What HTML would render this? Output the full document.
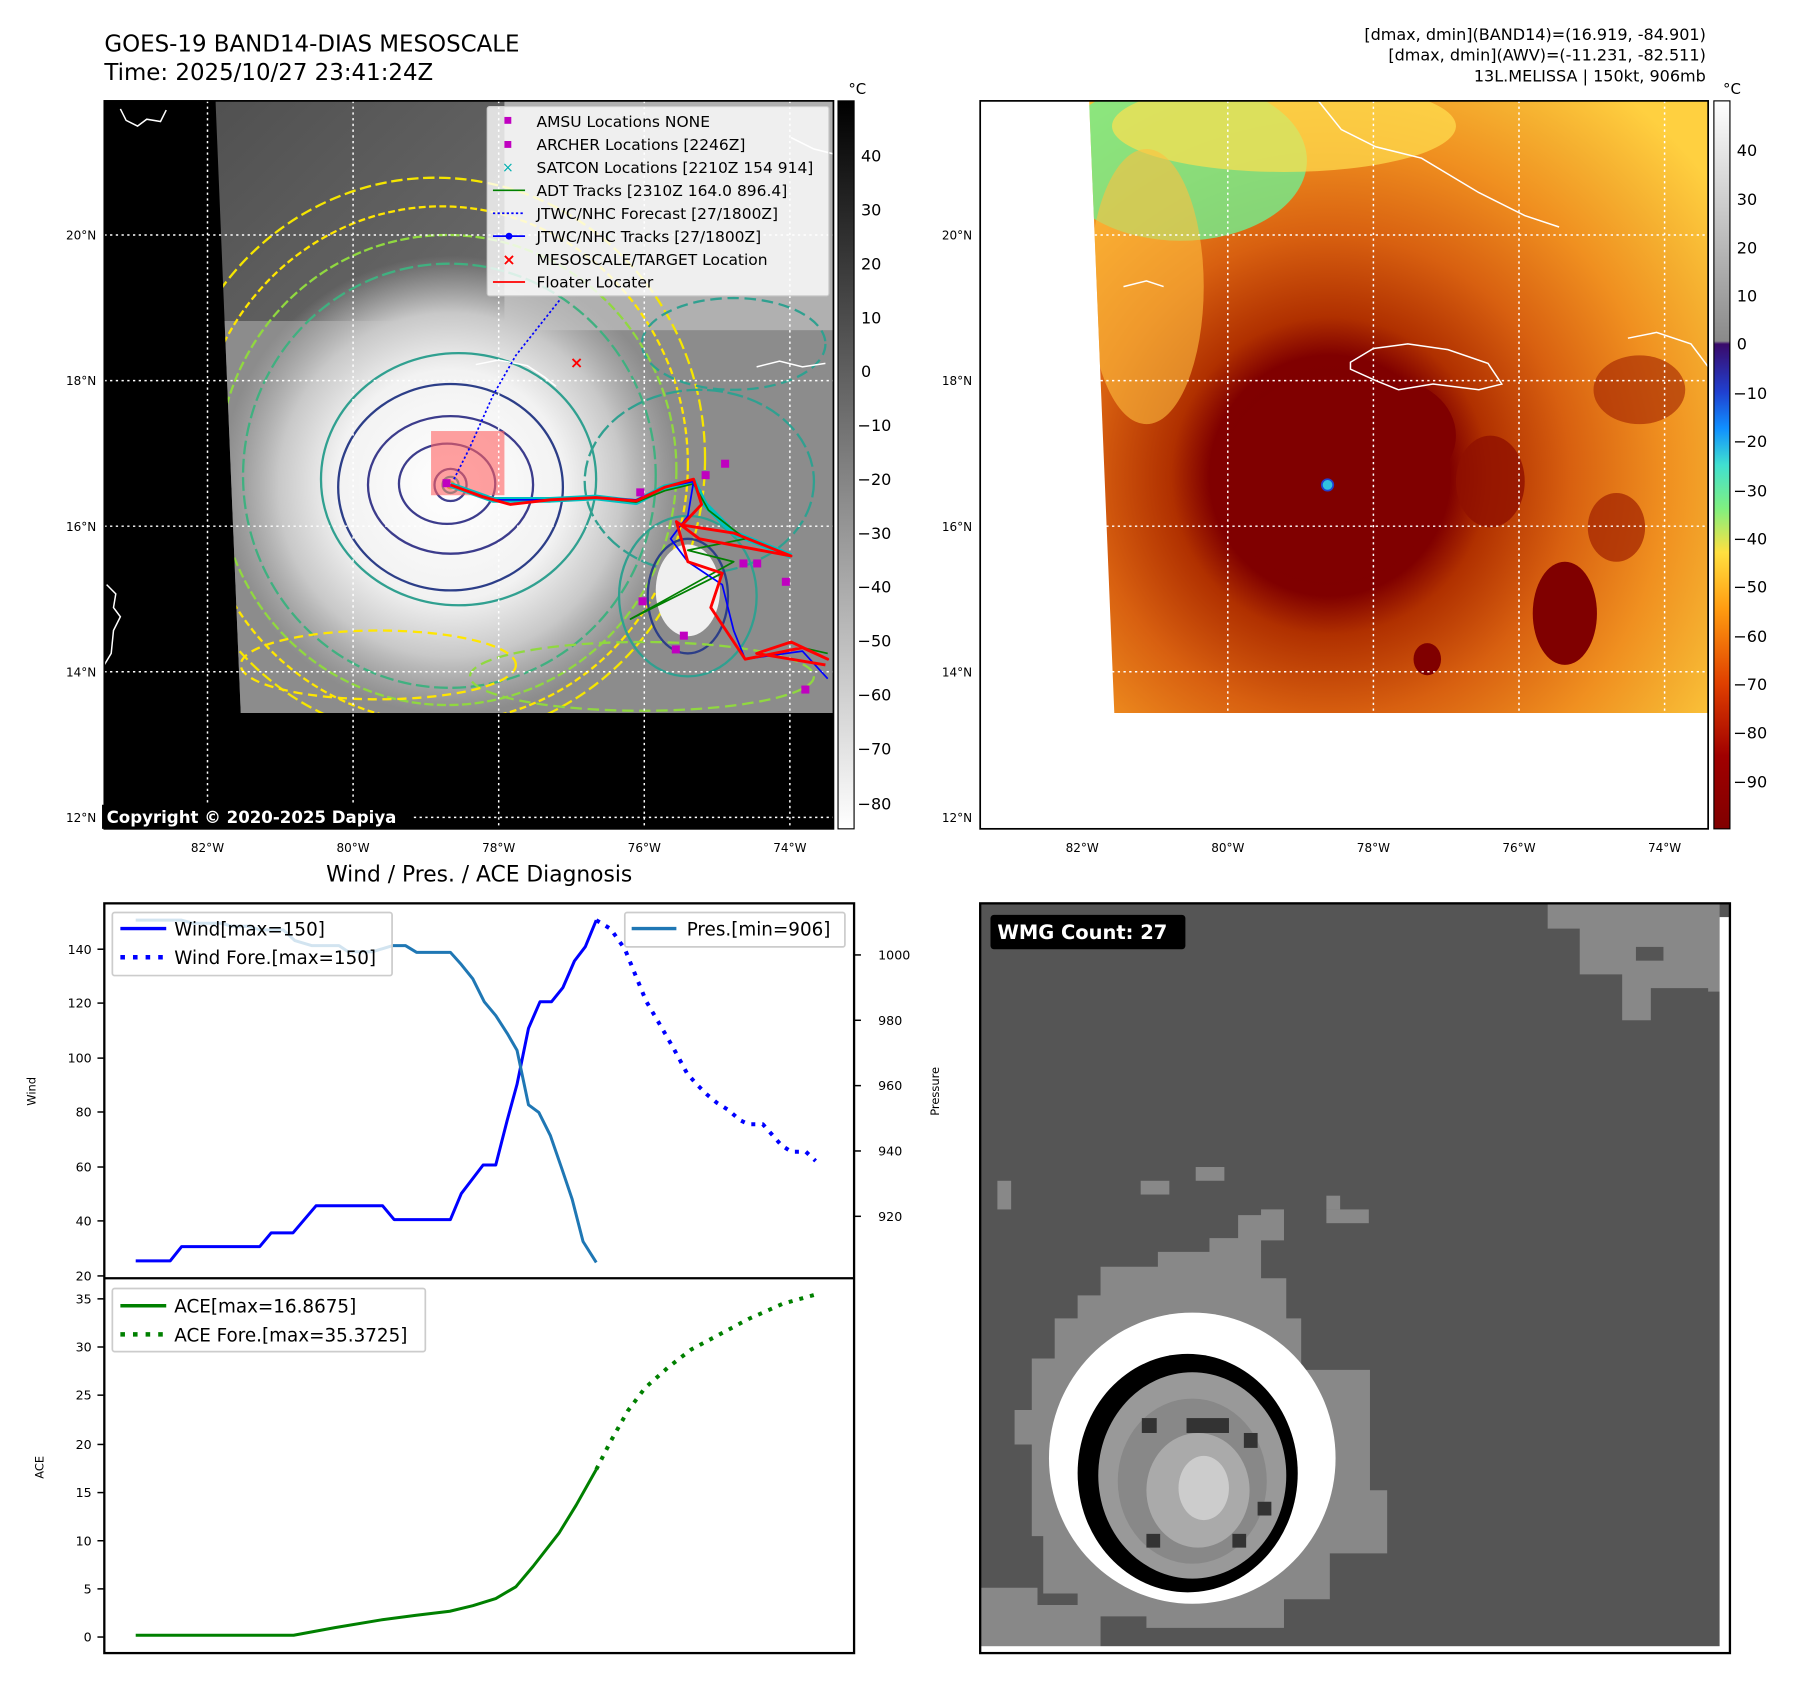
<!DOCTYPE html>
<html><head><meta charset="utf-8"><style>
html,body{margin:0;padding:0;background:#fff}
svg{display:block}
text{font-family:"DejaVu Sans","Liberation Sans",sans-serif}
</style></head><body>
<svg width="1797" height="1690" viewBox="0 0 1567.5 1474.2" preserveAspectRatio="none" xmlns="http://www.w3.org/2000/svg">
<defs>
<clipPath id="satL"><polygon points="188,88 727,88 727,622 210,622"/></clipPath>
<clipPath id="satR"><polygon points="950,88 1490,88 1490,622 972,622"/></clipPath>
<radialGradient id="stormL" cx="393" cy="423" r="200" gradientUnits="userSpaceOnUse">
<stop offset="0" stop-color="#fff"/><stop offset="0.5" stop-color="#f2f2f2"/><stop offset="0.75" stop-color="#c8c8c8"/><stop offset="1" stop-color="#b8b8b8" stop-opacity="0"/></radialGradient>
<linearGradient id="cb1" x1="0" y1="0" x2="0" y2="1"><stop offset="0" stop-color="#000"/><stop offset="1" stop-color="#fff"/></linearGradient>
<linearGradient id="cb2" x1="0" y1="0" x2="0" y2="1">
<stop offset="0" stop-color="#ffffff"/><stop offset="0.33" stop-color="#8a8a8a"/>
<stop offset="0.334" stop-color="#3a0a6a"/><stop offset="0.4" stop-color="#2040d0"/><stop offset="0.45" stop-color="#1090ff"/>
<stop offset="0.5" stop-color="#40e0d0"/><stop offset="0.56" stop-color="#80f080"/><stop offset="0.62" stop-color="#ffe040"/>
<stop offset="0.7" stop-color="#ff9a10"/><stop offset="0.8" stop-color="#e04000"/><stop offset="0.9" stop-color="#a00000"/><stop offset="1" stop-color="#800000"/></linearGradient>
<radialGradient id="stormR" cx="1160" cy="415" r="420" gradientUnits="userSpaceOnUse">
<stop offset="0" stop-color="#7a0000"/><stop offset="0.25" stop-color="#800000"/><stop offset="0.33" stop-color="#b03000"/><stop offset="0.5" stop-color="#d86010"/><stop offset="0.7" stop-color="#f09020"/><stop offset="0.85" stop-color="#f5b030"/><stop offset="1" stop-color="#ffd040"/></radialGradient>
<linearGradient id="topL" x1="0" y1="0" x2="1" y2="1"><stop offset="0" stop-color="#505050"/><stop offset="0.5" stop-color="#707070"/><stop offset="1" stop-color="#9a9a9a"/></linearGradient>
</defs>

<text x="91" y="45" font-size="20">GOES-19 BAND14-DIAS MESOSCALE</text>
<text x="91" y="70" font-size="20">Time: 2025/10/27 23:41:24Z</text>
<text x="1488" y="35" font-size="14" text-anchor="end">[dmax, dmin](BAND14)=(16.919, -84.901)</text>
<text x="1488" y="53" font-size="14" text-anchor="end">[dmax, dmin](AWV)=(-11.231, -82.511)</text>
<text x="1488" y="71" font-size="14" text-anchor="end">13L.MELISSA | 150kt, 906mb</text>

<rect x="91" y="88" width="636" height="635" fill="#000"/>
<g clip-path="url(#satL)">
<rect x="180" y="88" width="560" height="540" fill="url(#topL)"/>
<rect x="180" y="280" width="560" height="345" fill="#8c8c8c"/>
<rect x="440" y="88" width="290" height="200" fill="#b0b0b0"/>
<circle cx="393" cy="423" r="200" fill="url(#stormL)"/>
<g fill="none" stroke-width="2">
<ellipse cx="380" cy="400" rx="235" ry="245" stroke="#f5e600" stroke-dasharray="10,4"/>
<ellipse cx="385" cy="405" rx="215" ry="225" stroke="#ffe600" stroke-dasharray="6,3"/>
<ellipse cx="390" cy="410" rx="200" ry="205" stroke="#90d840" stroke-dasharray="8,3"/>
<ellipse cx="392" cy="415" rx="180" ry="185" stroke="#40b080" stroke-dasharray="12,4"/>
<ellipse cx="400" cy="418" rx="120" ry="110" stroke="#30a090"/>
<ellipse cx="393" cy="425" rx="98" ry="90" stroke="#2c3e88"/>
<ellipse cx="393" cy="423" rx="72" ry="60" stroke="#3c3c8c"/>
<ellipse cx="390" cy="422" rx="42" ry="35" stroke="#3c3c8c"/>
<ellipse cx="393" cy="423" rx="14" ry="14" stroke="#404090"/>
<circle cx="393" cy="423" r="7" stroke="#20a0a0"/>
<circle cx="393" cy="423" r="3" stroke="#c0e000"/>
<ellipse cx="610" cy="420" rx="100" ry="80" stroke="#30a090" stroke-dasharray="14,4"/>
<ellipse cx="600" cy="520" rx="60" ry="70" stroke="#30a090"/>
<ellipse cx="600" cy="520" rx="35" ry="50" stroke="#2c3e88"/>
<ellipse cx="640" cy="300" rx="80" ry="40" stroke="#30a090" stroke-dasharray="10,5"/>
<ellipse cx="560" cy="590" rx="150" ry="30" stroke="#90d840" stroke-dasharray="10,5"/>
<ellipse cx="330" cy="580" rx="120" ry="30" stroke="#ffe600" stroke-dasharray="8,5"/>
</g>
<ellipse cx="600" cy="515" rx="28" ry="40" fill="#f0f0f0"/>
</g>
<rect x="376" y="376" width="64" height="56" fill="#ff6060" fill-opacity="0.6"/>
<g stroke="#fff" stroke-width="1.3" stroke-dasharray="2,3">
<line x1="181" y1="88" x2="181" y2="723"/><line x1="308" y1="88" x2="308" y2="723"/><line x1="435" y1="88" x2="435" y2="723"/><line x1="562" y1="88" x2="562" y2="723"/><line x1="689" y1="88" x2="689" y2="723"/>
<line x1="91" y1="205" x2="727" y2="205"/><line x1="91" y1="332" x2="727" y2="332"/><line x1="91" y1="459" x2="727" y2="459"/><line x1="91" y1="586" x2="727" y2="586"/><line x1="91" y1="713" x2="727" y2="713"/>
</g>
<g fill="none" stroke="#fff" stroke-width="1.3">
<path d="M105,95 l5,10 l10,5 l8,-6 l12,2 l5,-10"/>
<path d="M93,510 l8,8 l-2,12 l6,8 l-6,12 l-2,20 l-6,10"/>
<path d="M415,318 l20,-4 l25,5 l15,10 l10,8"/>
<path d="M660,320 l20,-5 l20,5 l20,-3"/>
<path d="M690,120 l20,10 l20,5"/>
</g>
<polyline fill="none" stroke="#0000ff" stroke-width="1.5" stroke-dasharray="2,2" points="396,418 410,390 430,345 450,310 488,262"/>
<g fill="none" stroke-linejoin="round">
<polyline stroke="#00c0c0" stroke-width="5" points="393,423 430,436 480,436 520,434 555,438 580,425 605,420 615,440 640,465 690,485"/>
<polyline stroke="#008000" stroke-width="1.5" points="393,423 430,436 480,436 520,434 555,438 580,428 605,422 618,445 650,470 600,480 640,490 550,540 630,500 620,530 640,560 650,575 700,565 722,570"/>
<polyline stroke="#0000ff" stroke-width="1.5" points="393,423 430,436 480,436 520,434 555,436 580,425 605,420 600,450 585,470 600,490 630,510 640,550 650,575 700,568 722,592"/>
<polyline stroke="#ff0000" stroke-width="2.5" points="393,423 420,433 445,440 480,436 520,434 555,437 580,425 605,418 612,440 595,458 640,465 690,485 610,470 590,455 600,490 630,500 620,530 640,560 650,575 700,565 722,575 690,560 660,570 720,580"/>
</g>
<g fill="#c000c0">
<rect x="555" y="426" width="7" height="7"/><rect x="612" y="411" width="7" height="7"/><rect x="629" y="401" width="7" height="7"/><rect x="645" y="488" width="7" height="7"/><rect x="657" y="488" width="7" height="7"/><rect x="682" y="504" width="7" height="7"/><rect x="557" y="521" width="7" height="7"/><rect x="586" y="563" width="7" height="7"/><rect x="593" y="551" width="7" height="7"/><rect x="699" y="598" width="7" height="7"/><rect x="386" y="418" width="7" height="7"/>
</g>
<text x="503" y="321" font-size="14" fill="#f00" text-anchor="middle" font-weight="bold">×</text>
<rect x="425" y="93" width="298" height="165" fill="#fff" fill-opacity="0.8" stroke="#ccc" rx="2"/>
<g font-size="13.5" fill="#000">
<rect x="440" y="102" width="6" height="6" fill="#c000c0"/><text x="468" y="111">AMSU Locations NONE</text>
<rect x="440" y="123" width="6" height="6" fill="#c000c0"/><text x="468" y="131">ARCHER Locations [2246Z]</text>
<text x="443" y="150" fill="#00b0b0" font-size="12" text-anchor="middle">×</text><text x="468" y="151">SATCON Locations [2210Z 154 914]</text>
<line x1="430" y1="166" x2="458" y2="166" stroke="#008000" stroke-width="1.5"/><text x="468" y="171">ADT Tracks [2310Z 164.0 896.4]</text>
<line x1="430" y1="186" x2="458" y2="186" stroke="#0000ff" stroke-width="1.5" stroke-dasharray="2,2"/><text x="468" y="191">JTWC/NHC Forecast [27/1800Z]</text>
<line x1="430" y1="206" x2="458" y2="206" stroke="#0000ff" stroke-width="1.5"/><circle cx="444" cy="206" r="3" fill="#00f"/><text x="468" y="211">JTWC/NHC Tracks [27/1800Z]</text>
<text x="444" y="231" fill="#f00" font-size="14" text-anchor="middle" font-weight="bold">×</text><text x="468" y="231">MESOSCALE/TARGET Location</text>
<line x1="430" y1="246" x2="458" y2="246" stroke="#f00" stroke-width="1.5"/><text x="468" y="251">Floater Locater</text>
</g>
<rect x="89" y="702" width="270" height="21" fill="#000"/>
<text x="93" y="718" font-size="14.5" font-weight="bold" fill="#fff">Copyright © 2020-2025 Dapiya</text>
<rect x="91" y="88" width="636" height="635" fill="none" stroke="#000" stroke-width="1.5"/>

<rect x="731" y="88" width="14" height="635" fill="url(#cb1)" stroke="#000" stroke-width="1"/>
<text x="740" y="82" font-size="13">°C</text>
<g font-size="14" fill="#000">
<text x="751" y="141">40</text><text x="751" y="188">30</text><text x="751" y="235">20</text><text x="751" y="282">10</text><text x="751" y="329">0</text>
<text x="748" y="376">−10</text><text x="748" y="423">−20</text><text x="748" y="470">−30</text><text x="748" y="517">−40</text><text x="748" y="564">−50</text><text x="748" y="611">−60</text><text x="748" y="658">−70</text><text x="748" y="706">−80</text>
</g>

<g font-size="10.5" text-anchor="end">
<text x="84" y="209">20°N</text><text x="84" y="336">18°N</text><text x="84" y="463">16°N</text><text x="84" y="590">14°N</text><text x="84" y="717">12°N</text>
<text x="848" y="209">20°N</text><text x="848" y="336">18°N</text><text x="848" y="463">16°N</text><text x="848" y="590">14°N</text><text x="848" y="717">12°N</text>
</g>
<g font-size="10.5" text-anchor="middle">
<text x="181" y="743">82°W</text><text x="308" y="743">80°W</text><text x="435" y="743">78°W</text><text x="562" y="743">76°W</text><text x="689" y="743">74°W</text>
<text x="944" y="743">82°W</text><text x="1071" y="743">80°W</text><text x="1198" y="743">78°W</text><text x="1325" y="743">76°W</text><text x="1452" y="743">74°W</text>
</g>

<rect x="855" y="88" width="635" height="635" fill="#fff"/>
<g clip-path="url(#satR)">
<rect x="940" y="88" width="560" height="540" fill="url(#stormR)"/>
<ellipse cx="1030" cy="140" rx="110" ry="70" fill="#70f090" opacity="0.8"/>
<ellipse cx="1120" cy="110" rx="150" ry="40" fill="#ffe050" opacity="0.7"/>
<ellipse cx="1000" cy="250" rx="50" ry="120" fill="#ffc040" opacity="0.6"/>
<ellipse cx="1160" cy="418" rx="95" ry="90" fill="#800000"/>
<ellipse cx="1210" cy="380" rx="60" ry="50" fill="#800000"/>
<ellipse cx="1365" cy="535" rx="28" ry="45" fill="#800000"/>
<ellipse cx="1300" cy="420" rx="30" ry="40" fill="#901000" opacity="0.8"/>
<ellipse cx="1245" cy="575" rx="12" ry="14" fill="#800000"/>
<ellipse cx="1410" cy="460" rx="25" ry="30" fill="#a02000" opacity="0.7"/>
<ellipse cx="1430" cy="340" rx="40" ry="30" fill="#a02000" opacity="0.6"/>
</g>
<circle cx="1158" cy="423" r="5" fill="#30c0e0" stroke="#2040d0" stroke-width="1.5"/>
<g fill="none" stroke="#fff" stroke-width="1.3">
<path d="M1178,316 l20,-12 l30,-4 l35,5 l35,12 l12,18 l-20,5 l-40,-5 l-30,5 l-20,-8 l-22,-10z"/>
<path d="M1150,88 l20,25 l30,15 l40,10 l50,30 l40,20 l30,10"/>
<path d="M1420,295 l25,-5 l30,10 l15,20"/>
<path d="M980,250 l20,-5 l15,5"/>
</g>
<g stroke="#fff" stroke-width="1.3" stroke-dasharray="2,3">
<line x1="944" y1="88" x2="944" y2="723"/><line x1="1071" y1="88" x2="1071" y2="723"/><line x1="1198" y1="88" x2="1198" y2="723"/><line x1="1325" y1="88" x2="1325" y2="723"/><line x1="1452" y1="88" x2="1452" y2="723"/>
<line x1="855" y1="205" x2="1490" y2="205"/><line x1="855" y1="332" x2="1490" y2="332"/><line x1="855" y1="459" x2="1490" y2="459"/><line x1="855" y1="586" x2="1490" y2="586"/><line x1="855" y1="713" x2="1490" y2="713"/>
</g>
<rect x="855" y="88" width="635" height="635" fill="none" stroke="#000" stroke-width="1.5"/>
<rect x="1495" y="88" width="14" height="635" fill="url(#cb2)" stroke="#000" stroke-width="1"/>
<text x="1503" y="82" font-size="13">°C</text>
<g font-size="14">
<text x="1515" y="136">40</text><text x="1515" y="179">30</text><text x="1515" y="221">20</text><text x="1515" y="263">10</text><text x="1515" y="305">0</text>
<text x="1512" y="348">−10</text><text x="1512" y="390">−20</text><text x="1512" y="433">−30</text><text x="1512" y="475">−40</text><text x="1512" y="517">−50</text><text x="1512" y="560">−60</text><text x="1512" y="602">−70</text><text x="1512" y="644">−80</text><text x="1512" y="687">−90</text>
</g>

<text x="418" y="769" font-size="19" text-anchor="middle">Wind / Pres. / ACE Diagnosis</text>
<g transform="translate(51.76,767.98) scale(0.5009,0.4449)" fill="none" stroke-linejoin="round">
<polyline vector-effect="non-scaling-stroke" stroke="#0000ff" stroke-width="3" points="133,746 193,746 213,718 349,718 369,691 407,691 447,638 563,638 583,665 681,665 700,614 738,558 760,558 780,470 797,400 817,290 837,238 857,238 877,210 897,158 916,130 935,78"/>
<polyline vector-effect="non-scaling-stroke" stroke="#0000ff" stroke-width="4" stroke-dasharray="4,7" points="935,78 960,95 985,135 1003,185 1022,237 1047,285 1070,330 1093,378 1110,400 1128,420 1145,436 1165,450 1185,470 1200,478 1225,478 1240,497 1258,520 1275,532 1300,532 1317,550"/>
<polyline vector-effect="non-scaling-stroke" stroke="#1f77b4" stroke-width="3" points="133,78 213,78 233,84 283,84 300,90 330,90 350,97 390,97 410,118 440,128 487,128 503,140 545,140 580,128 603,128 622,141 681,141 700,165 720,193 740,238 760,265 780,300 797,333 817,440 835,455 855,500 875,565 893,625 912,708 935,749"/>
<polyline vector-effect="non-scaling-stroke" stroke="#008000" stroke-width="3" points="133,1480 408,1480 480,1465 560,1450 620,1441 680,1433 720,1422 760,1408 795,1385 825,1345 870,1280 900,1225 935,1155"/>
<polyline vector-effect="non-scaling-stroke" stroke="#008000" stroke-width="4" stroke-dasharray="4,7" points="935,1155 960,1100 990,1040 1020,995 1060,955 1100,920 1150,890 1200,860 1260,830 1317,812"/>
</g>
<rect x="91" y="788" width="654" height="654" fill="none" stroke="#000" stroke-width="2"/>
<line x1="91" y1="1115" x2="745" y2="1115" stroke="#000" stroke-width="2"/>
<g stroke="#000" stroke-width="1.3">
<line x1="85" y1="1113" x2="91" y2="1113"/><line x1="85" y1="1065" x2="91" y2="1065"/><line x1="85" y1="1018" x2="91" y2="1018"/><line x1="85" y1="970" x2="91" y2="970"/><line x1="85" y1="923" x2="91" y2="923"/><line x1="85" y1="875" x2="91" y2="875"/><line x1="85" y1="828" x2="91" y2="828"/>
<line x1="745" y1="833" x2="751" y2="833"/><line x1="745" y1="890" x2="751" y2="890"/><line x1="745" y1="947" x2="751" y2="947"/><line x1="745" y1="1004" x2="751" y2="1004"/><line x1="745" y1="1061" x2="751" y2="1061"/>
<line x1="85" y1="1428" x2="91" y2="1428"/><line x1="85" y1="1386" x2="91" y2="1386"/><line x1="85" y1="1344" x2="91" y2="1344"/><line x1="85" y1="1302" x2="91" y2="1302"/><line x1="85" y1="1260" x2="91" y2="1260"/><line x1="85" y1="1217" x2="91" y2="1217"/><line x1="85" y1="1175" x2="91" y2="1175"/><line x1="85" y1="1133" x2="91" y2="1133"/>
</g>
<g font-size="11" text-anchor="end">
<text x="80" y="1117">20</text><text x="80" y="1069">40</text><text x="80" y="1022">60</text><text x="80" y="974">80</text><text x="80" y="927">100</text><text x="80" y="879">120</text><text x="80" y="832">140</text>
<text x="80" y="1432">0</text><text x="80" y="1390">5</text><text x="80" y="1348">10</text><text x="80" y="1306">15</text><text x="80" y="1264">20</text><text x="80" y="1221">25</text><text x="80" y="1179">30</text><text x="80" y="1137">35</text>
</g>
<g font-size="11">
<text x="766" y="837">1000</text><text x="766" y="894">980</text><text x="766" y="951">960</text><text x="766" y="1008">940</text><text x="766" y="1065">920</text>
</g>
<text font-size="10" transform="translate(31,952) rotate(-90)" text-anchor="middle">Wind</text>
<text font-size="10" transform="translate(819,952) rotate(-90)" text-anchor="middle">Pressure</text>
<text font-size="10" transform="translate(38,1280) rotate(-90)" text-anchor="middle">ACE</text>
<g font-size="16">
<rect x="98" y="796" width="244" height="55" fill="#fff" fill-opacity="0.8" stroke="#ccc" stroke-width="1.5" rx="2"/>
<line x1="105" y1="810" x2="145" y2="810" stroke="#0000ff" stroke-width="3"/><text x="152" y="816">Wind[max=150]</text>
<line x1="105" y1="835" x2="145" y2="835" stroke="#0000ff" stroke-width="4" stroke-dasharray="4,7"/><text x="152" y="841">Wind Fore.[max=150]</text>
<rect x="545" y="796" width="192" height="30" fill="#fff" fill-opacity="0.8" stroke="#ccc" stroke-width="1.5" rx="2"/>
<line x1="551" y1="810" x2="590" y2="810" stroke="#1f77b4" stroke-width="3"/><text x="599" y="816">Pres.[min=906]</text>
<rect x="98" y="1124" width="273" height="55" fill="#fff" fill-opacity="0.8" stroke="#ccc" stroke-width="1.5" rx="2"/>
<line x1="105" y1="1139" x2="145" y2="1139" stroke="#008000" stroke-width="3"/><text x="152" y="1145">ACE[max=16.8675]</text>
<line x1="105" y1="1164" x2="145" y2="1164" stroke="#008000" stroke-width="4" stroke-dasharray="4,7"/><text x="152" y="1170">ACE Fore.[max=35.3725]</text>
</g>

<rect x="855" y="788" width="654" height="654" fill="#555"/>
<g fill="#888">
<polygon points="1350,788 1500,788 1500,865 1490,865 1490,862 1440,862 1440,890 1415,890 1415,850 1378,850 1378,810 1350,810"/>
<polygon points="960,1105 1010,1105 1010,1092 1055,1092 1055,1080 1080,1080 1080,1060 1100,1060 1100,1055 1120,1055 1120,1082 1100,1082 1100,1115 1122,1115 1122,1150 1135,1150 1135,1195 1195,1195 1195,1300 1210,1300 1210,1355 1160,1355 1160,1395 1120,1395 1120,1420 1000,1420 1000,1410 940,1410 940,1390 910,1390 910,1340 900,1340 900,1260 885,1260 885,1230 900,1230 900,1185 920,1185 920,1150 940,1150 940,1130 960,1130"/>
<polygon points="855,1385 905,1385 905,1400 960,1400 960,1437 855,1437"/>
<rect x="1043" y="1018" width="25" height="12"/><rect x="995" y="1030" width="25" height="12"/><rect x="870" y="1030" width="12" height="25"/><rect x="1157" y="1043" width="12" height="12"/><rect x="1157" y="1055" width="37" height="12"/>
</g>
<rect x="1427" y="826" width="24" height="12" fill="#555"/>
<ellipse cx="1040" cy="1272" rx="125" ry="127" fill="#fff"/>
<ellipse cx="1036" cy="1285" rx="96" ry="104" fill="#000"/>
<ellipse cx="1040" cy="1287" rx="82" ry="90" fill="#999"/>
<ellipse cx="1040" cy="1292" rx="65" ry="72" fill="#888"/>
<ellipse cx="1045" cy="1300" rx="45" ry="50" fill="#aaa"/>
<ellipse cx="1050" cy="1298" rx="22" ry="28" fill="#ccc"/>
<g fill="#333"><rect x="996" y="1237" width="13" height="13"/><rect x="1035" y="1237" width="37" height="13"/><rect x="1085" y="1250" width="12" height="13"/><rect x="1000" y="1338" width="12" height="12"/><rect x="1075" y="1338" width="12" height="12"/><rect x="1097" y="1310" width="12" height="12"/></g>
<rect x="1500" y="800" width="9" height="640" fill="#fff"/>
<rect x="855" y="1436" width="654" height="6" fill="#fff"/>
<rect x="855" y="788" width="654" height="654" fill="none" stroke="#000" stroke-width="2"/>
<rect x="864" y="798" width="170" height="30" rx="3" fill="#000"/>
<text x="870" y="819" font-size="17" font-weight="bold" fill="#fff">WMG Count: 27</text>
</svg>
</body></html>
